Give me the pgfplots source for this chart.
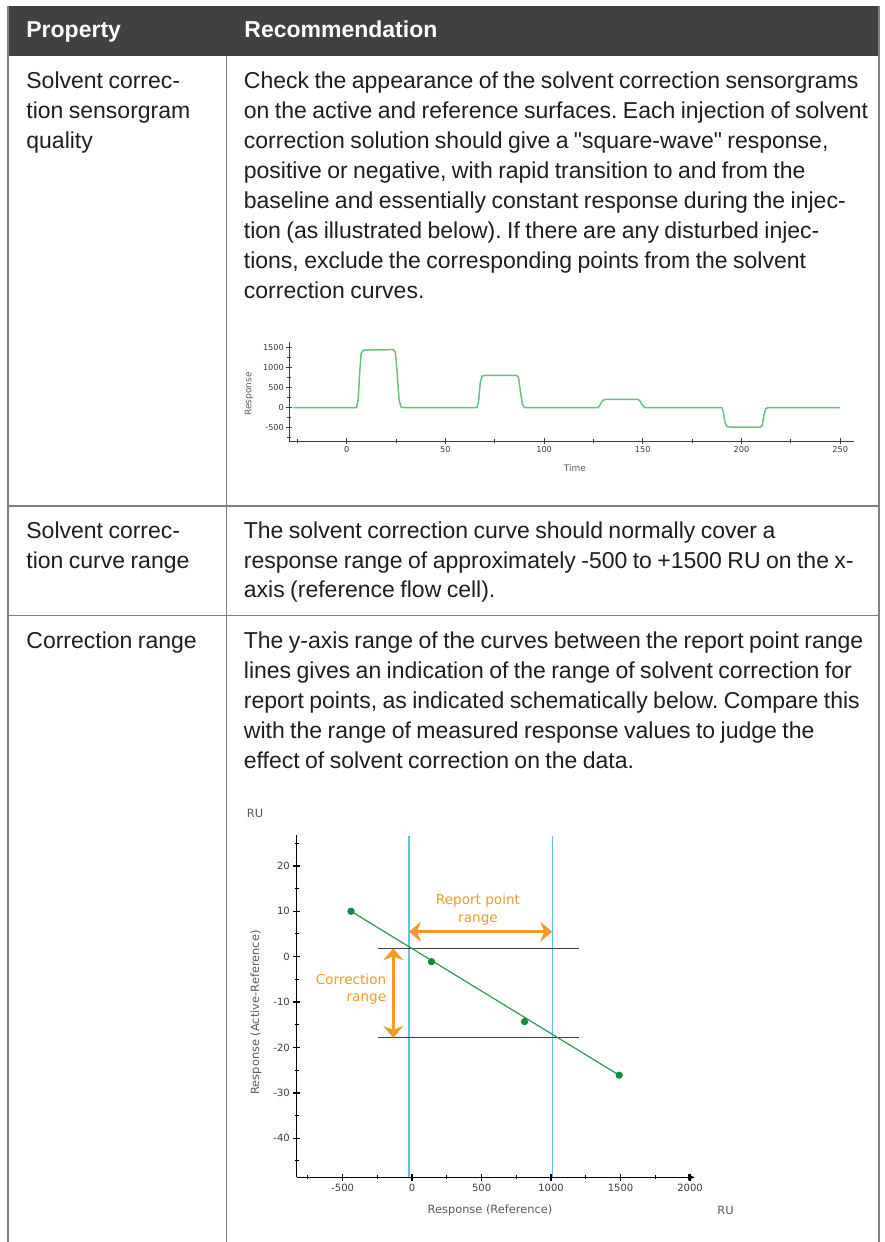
\documentclass[border=0pt]{standalone}
\usepackage{fontspec}
\setmainfont{Liberation Sans}[WordSpace=0.85]
\newfontfamily\chartfont{DejaVu Sans}
\usepackage{pgfplots}
\pgfplotsset{compat=1.18}
\usetikzlibrary{arrows.meta}
\definecolor{hdr}{HTML}{414141}
\definecolor{rulec}{HTML}{808080}
\definecolor{bodyc}{HTML}{1E1E1E}
\definecolor{lgreen}{HTML}{6CBF7E}
\definecolor{dgreen}{HTML}{2E9A50}
\definecolor{dotgreen}{HTML}{138A3E}
\definecolor{lblue}{HTML}{5CC3E8}
\definecolor{orng}{HTML}{F39A26}
\definecolor{tickc}{HTML}{3C3C3C}
\definecolor{labc}{HTML}{5A5A5A}
\newcommand\bodyfont{\fontsize{11.5}{14}\selectfont}
\frenchspacing
\begin{document}
\begin{tikzpicture}
\begin{scope}[x=0.5pt,y=-0.5pt]
\useasboundingbox (0,0) rectangle (884,1242);
% ---------- table frame ----------
\fill[hdr] (8,6) rectangle (879,55.7);
\draw[rulec, line width=0.75pt] (8,6) -- (8,1242);
\draw[rulec, line width=0.75pt] (879,6) -- (879,1242);
\draw[rulec, line width=0.75pt] (226.7,55.7) -- (226.7,1242);
\draw[rulec, line width=0.75pt] (8,506) -- (879,506);
\draw[rulec, line width=0.75pt] (8,615.7) -- (879,615.7);
% ---------- header ----------
\begin{scope}[every node/.style={anchor=base west, inner sep=0pt, text=white, font=\bodyfont\bfseries}]
\node at (26,37) {Property};
\node at (244,37) {Recommendation};
\end{scope}
% ---------- body text ----------
\begin{scope}[every node/.style={anchor=base west, inner sep=0pt, text=bodyc, font=\bodyfont}]
\node at (26,88) {Solvent correc-};
\node at (26,118) {tion sensorgram};
\node at (26,148) {quality};
\node at (243.5,88) {Check the appearance of the solvent correction sensorgrams};
\node at (243.5,118) {on the active and reference surfaces. Each injection of solvent};
\node at (243.5,148) {correction solution should give a \textquotedbl square-wave\textquotedbl{} response,};
\node at (243.5,178) {positive or negative, with rapid transition to and from the};
\node at (243.5,208) {baseline and essentially constant response during the injec-};
\node at (243.5,238) {tion (as illustrated below). If there are any disturbed injec-};
\node at (243.5,268) {tions, exclude the corresponding points from the solvent};
\node at (243.5,298) {correction curves.};
\node at (26,538) {Solvent correc-};
\node at (26,568) {tion curve range};
\node at (243.5,538) {The solvent correction curve should normally cover a};
\node at (243.5,568) {response range of approximately -500 to +1500 RU on the x-};
\node at (243.5,597) {axis (reference flow cell).};
\node at (26,648) {Correction range};
\node at (243.5,648) {The y-axis range of the curves between the report point range};
\node at (243.5,678) {lines gives an indication of the range of solvent correction for};
\node at (243.5,708) {report points, as indicated schematically below. Compare this};
\node at (243.5,738) {with the range of measured response values to judge the};
\node at (243.5,768) {effect of solvent correction on the data.};
\end{scope}
% chart labels
\node[rotate=90, font=\chartfont\fontsize{4.5}{5}\selectfont, text=labc] at (249,394) {Response};
\node[font=\chartfont\fontsize{4.5}{5}\selectfont, text=labc] at (575,468) {Time};
\node[font=\chartfont\fontsize{5.7}{7}\selectfont, text=labc] at (255,813) {RU};
\node[rotate=90, font=\chartfont\fontsize{5.7}{7}\selectfont, text=labc] at (256,1012.5) {Response (Active-Reference)};
\node[font=\chartfont\fontsize{5.7}{7}\selectfont, text=labc] at (490,1210) {Response (Reference)};
\node[anchor=west, inner sep=0pt, font=\chartfont\fontsize{5.7}{7}\selectfont, text=labc] at (717,1210) {RU};
\end{scope}
% ---------- chart 1 ----------
\begin{axis}[at={(144.65pt,-220.65pt)}, anchor=south west, scale only axis,
  width=282.35pt, height=49.65pt, clip=false,
  xmin=-29.1, xmax=257, ymin=-841, ymax=1631,
  axis x line*=bottom, axis y line*=left,
  axis line style={draw=tickc, line width=0.5pt},
  xtick={0,50,100,150,200,250}, xticklabels={0,50,100,150,200,250},
  minor xtick={-25,25,75,125,175,225},
  ytick={-500,0,500,1000,1500}, yticklabels={-500,0,500,1000,1500},
  minor ytick={-750,-250,250,750,1250},
  tick align=center, major tick length=3pt, minor tick length=2pt,
  major tick style={draw=tickc, line width=0.5pt},
  minor tick style={draw=tickc, line width=0.4pt},
  tick label style={font=\chartfont\fontsize{4.1}{5}\selectfont, text=tickc},
  xticklabel style={inner sep=1pt}, yticklabel style={inner sep=1pt},
]
\addplot[lgreen, line width=0.75pt, line join=round] coordinates {
(-27,0) (5,0) (5.8,200) (6.6,900) (7.3,1350) (8.5,1430) (23.5,1440)
(24.6,1380) (25.5,900) (26.5,200) (27.5,10) (28.5,0)
(66,0) (66.8,150) (67.6,600) (68.5,780) (70,800) (86,800) (87,760)
(88,400) (89,80) (90,0)
(127.5,0) (128.5,80) (129.5,170) (131,200) (147.5,200) (148.5,170)
(149.5,80) (151,0)
(190,0) (190.8,-100) (191.5,-350) (192.5,-470) (194,-485) (209.5,-485)
(210.5,-450) (211.3,-200) (212.2,-30) (213.5,0) (250,0)};
\end{axis}
% ---------- chart 2 ----------
\begin{axis}[at={(148.35pt,-588.65pt)}, anchor=south west, scale only axis,
  width=199.15pt, height=171.15pt, clip=false,
  xmin=-831, xmax=2036, ymin=-48.6, ymax=26.8,
  axis x line*=bottom, axis y line*=left,
  axis line style={draw=black, line width=0.7pt},
  x axis line style={-{Latex[length=3.5pt,width=3.5pt]}},
  xtick={-500,0,500,1000,1500,2000}, xticklabels={-500,0,500,1000,1500,2000},
  minor xtick={-750,-250,250,750,1250,1750},
  ytick={-40,-30,-20,-10,0,10,20}, yticklabels={-40,-30,-20,-10,0,10,20},
  minor ytick={-45,-35,-25,-15,-5,5,15,25},
  tick align=center, major tick length=3.5pt, minor tick length=2pt,
  major tick style={draw=black, line width=0.7pt},
  minor tick style={draw=black, line width=0.5pt},
  tick label style={font=\chartfont\fontsize{5}{6}\selectfont, text=tickc},
  xticklabel style={inner sep=1.5pt}, yticklabel style={inner sep=1.5pt},
]
\addplot[lblue, line width=0.6pt] coordinates {(-23,-48.6) (-23,26.5)};
\addplot[lblue, line width=0.6pt] coordinates {(1008,-48.6) (1008,26.5)};
\addplot[black!75, line width=0.5pt] coordinates {(-244,1.85) (1203,1.85)};
\addplot[black!75, line width=0.5pt] coordinates {(-244,-17.9) (1203,-17.9)};
\addplot[dgreen, line width=0.6pt] coordinates {(-440,10) (1490,-26.1)};
\addplot[only marks, mark=*, mark size=1.6pt, dotgreen] coordinates {(-440,10) (139,-1.1) (809,-14.3) (1490,-26.1)};
\addplot[orng, line width=1.7pt, {Stealth[length=6pt,width=10pt,inset=2pt]}-{Stealth[length=6pt,width=10pt,inset=2pt]}] coordinates {(-23,5.5) (1008,5.5)};
\addplot[orng, line width=1.7pt, {Stealth[length=6pt,width=10pt,inset=2pt]}-{Stealth[length=6pt,width=10pt,inset=2pt]}] coordinates {(-136,1.85) (-136,-17.9)};
\node[font=\chartfont\fontsize{6.8}{8}\selectfont, text=orng] at (axis cs:474,12.4) {Report point};
\node[font=\chartfont\fontsize{6.8}{8}\selectfont, text=orng] at (axis cs:474,8.1) {range};
\node[anchor=east, inner sep=0pt, font=\chartfont\fontsize{6.8}{8}\selectfont, text=orng] at (axis cs:-184,-5.1) {Correction};
\node[anchor=east, inner sep=0pt, font=\chartfont\fontsize{6.8}{8}\selectfont, text=orng] at (axis cs:-184,-9.4) {range};
\end{axis}
\end{tikzpicture}
\end{document}
